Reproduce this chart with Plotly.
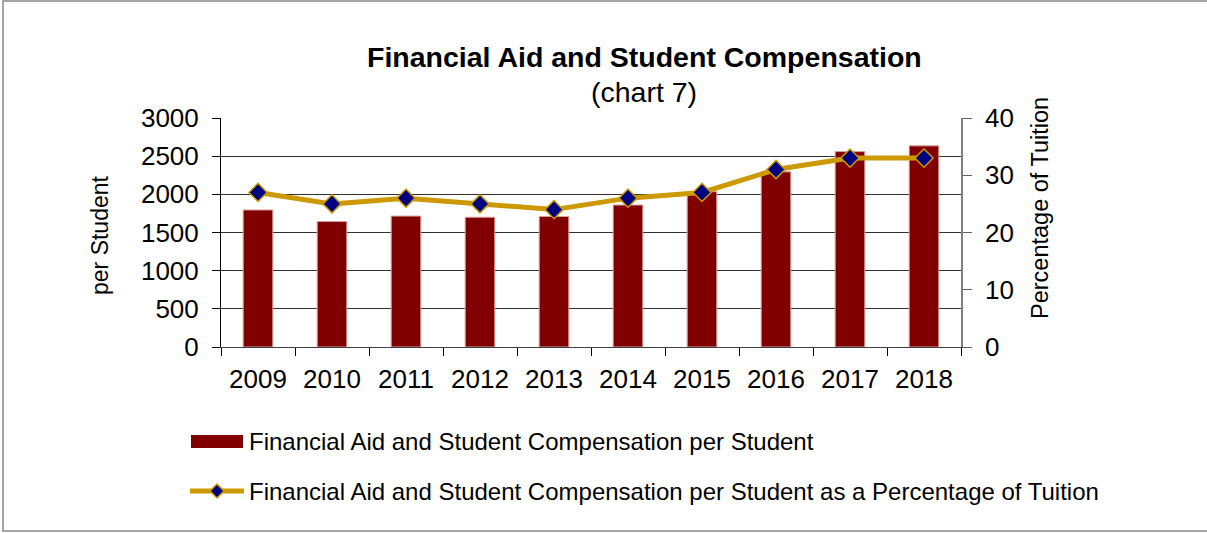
import plotly.graph_objects as go

years = ["2009", "2010", "2011", "2012", "2013", "2014", "2015", "2016", "2017", "2018"]
aid_per_student = [1795, 1645, 1715, 1700, 1710, 1860, 2035, 2295, 2560, 2635]
pct_of_tuition = [27, 25, 26, 25, 24, 26, 27, 31, 33, 33]
left_ticks = [0, 500, 1000, 1500, 2000, 2500, 3000]
right_ticks = [0, 10, 20, 30, 40]

bar_name = "Financial Aid and Student Compensation per Student"
line_name = "Financial Aid and Student Compensation per Student as a Percentage of Tuition"

FONT = "Liberation Sans, Arial, sans-serif"
W, H = 1207, 533
L, R, T, B = 221, 961, 118, 347

def xp(px):
    return (px - L) / (R - L)

def yp(py):
    return (B - py) / (B - T)

fig = go.Figure()
fig.add_trace(go.Bar(
    x=years, y=aid_per_student, name=bar_name, width=0.4,
    marker=dict(color="#800000", line=dict(color="#d8a0a0", width=1)),
    yaxis="y", showlegend=False,
))
fig.add_trace(go.Scatter(
    x=years, y=pct_of_tuition, name=line_name, mode="lines+markers",
    line=dict(color="#CC9900", width=5),
    marker=dict(symbol="diamond", size=14, color="#000080", line=dict(color="#CC9900", width=1.5)),
    yaxis="y2", showlegend=False,
))

fig.update_layout(
    width=W, height=H,
    margin=dict(l=L, r=W - R, t=T, b=H - B, pad=0),
    paper_bgcolor="white", plot_bgcolor="white",
    font=dict(family=FONT, size=23, color="black"),
    xaxis=dict(
        type="category", tickson="boundaries", ticks="outside", ticklen=8, tickcolor="black",
        showline=True, linecolor="#404040", linewidth=1, showgrid=False,
        tickfont=dict(size=26), range=[-0.5, 9.5], ticklabelstandoff=9,
    ),
    yaxis=dict(
        range=[0, 3000], tickvals=left_ticks, ticks="outside", ticklen=8, tickcolor="black",
        showline=True, linecolor="black", linewidth=1,
        showgrid=True, gridcolor="#303030", gridwidth=1, zeroline=False,
        tickfont=dict(size=26), ticklabelstandoff=8,
    ),
    yaxis2=dict(
        range=[0, 40], tickvals=right_ticks, overlaying="y", side="right",
        ticks="outside", ticklen=9, tickcolor="#606060",
        showline=True, linecolor="#808080", linewidth=1.5, showgrid=False, zeroline=False,
        tickfont=dict(size=26), ticklabelstandoff=8,
    ),
    showlegend=False,
)

ann = []
ann.append(dict(text="<b>Financial Aid and Student Compensation</b>", x=xp(644), y=yp(57),
                xref="paper", yref="paper", showarrow=False, font=dict(size=28.5),
                xanchor="center", yanchor="middle"))
ann.append(dict(text="(chart 7)", x=xp(644), y=yp(92), xref="paper", yref="paper",
                showarrow=False, font=dict(size=28.5), xanchor="center", yanchor="middle"))
ann.append(dict(text="per Student", x=xp(100), y=yp(235), xref="paper", yref="paper",
                showarrow=False, textangle=-90, font=dict(size=23), xanchor="center", yanchor="middle"))
ann.append(dict(text="Percentage of Tuition", x=xp(1040), y=yp(208), xref="paper", yref="paper",
                showarrow=False, textangle=-90, font=dict(size=23.5), xanchor="center", yanchor="middle"))
ann.append(dict(text=bar_name, x=xp(247), y=yp(441), xref="paper", yref="paper",
                showarrow=False, font=dict(size=24), xanchor="left", yanchor="middle"))
ann.append(dict(text=line_name, x=xp(247), y=yp(491), xref="paper", yref="paper",
                showarrow=False, font=dict(size=24), xanchor="left", yanchor="middle"))

shapes = []
# outer border
shapes.append(dict(type="rect", xref="paper", yref="paper", x0=xp(3), x1=xp(1215), y0=yp(1), y1=yp(531),
                   line=dict(color="#888888", width=1.5), layer="below"))
# legend swatches
shapes.append(dict(type="rect", xref="paper", yref="paper", x0=xp(191), x1=xp(243), y0=yp(448), y1=yp(435),
                   fillcolor="#800000", line=dict(width=0)))
shapes.append(dict(type="line", xref="paper", yref="paper", x0=xp(190), x1=xp(244), y0=yp(491), y1=yp(491),
                   line=dict(color="#CC9900", width=5)))
cx, cy, d = 217, 491, 7
path = "M {} {} L {} {} L {} {} L {} {} Z".format(
    xp(cx), yp(cy - d), xp(cx + d), yp(cy), xp(cx), yp(cy + d), xp(cx - d), yp(cy))
shapes.append(dict(type="path", xref="paper", yref="paper", path=path,
                   fillcolor="#000080", line=dict(color="#CC9900", width=1.5)))

fig.update_layout(annotations=ann, shapes=shapes)
fig.write_html("out.html")
